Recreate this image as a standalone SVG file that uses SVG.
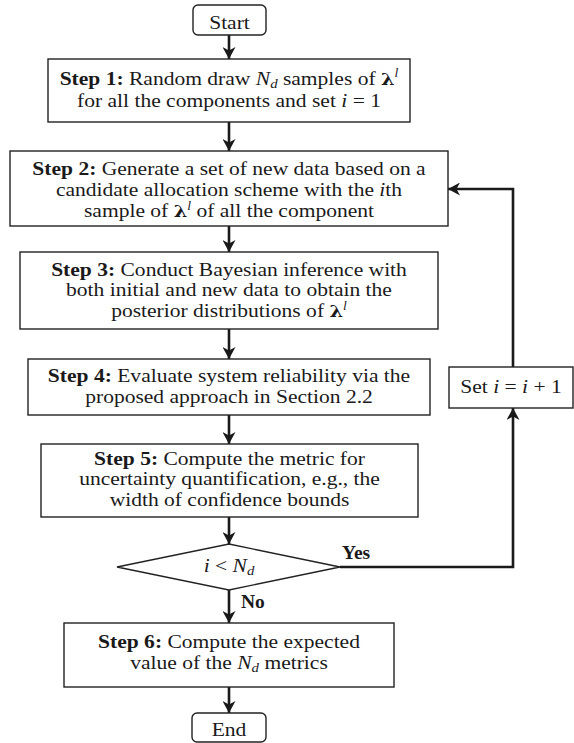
<svg xmlns="http://www.w3.org/2000/svg" width="574" height="743" viewBox="0 0 574 743">
  <style>
    .box { fill: #fff; stroke: #222; stroke-width: 1.4; }
    .conn { fill: none; stroke: #1a1a1a; stroke-width: 2.6; }
    text { font-family: "Liberation Serif", "Times New Roman", serif; font-size: 18.9px; fill: #1a1a1a; text-anchor: middle; }
    .b { font-weight: bold; }
    .it { font-style: italic; }
    .lam { font-weight: bold; font-family: "DejaVu Serif", "Liberation Serif", serif; font-size: 17px; }
    .sub { font-style: italic; font-size: 13px; }
    .sup { font-style: italic; font-size: 12px; }
    .lbl { font-weight: bold; font-size: 19.5px; text-anchor: start; }
  </style>
  <defs>
    <marker id="arr" markerUnits="userSpaceOnUse" markerWidth="13" markerHeight="13" refX="12" refY="6.5" orient="auto">
      <path d="M0,0 L12,6.5 L0,13 L3.5,6.5 Z" fill="#1a1a1a"/>
    </marker>
  </defs>

  <g id="connectors">
    <path class="conn" d="M229,35 V59" marker-end="url(#arr)"/>
    <path class="conn" d="M229,122 V151" marker-end="url(#arr)"/>
    <path class="conn" d="M229,226 V252" marker-end="url(#arr)"/>
    <path class="conn" d="M229,329 V359" marker-end="url(#arr)"/>
    <path class="conn" d="M229,415 V444" marker-end="url(#arr)"/>
    <path class="conn" d="M229,517 V544" marker-end="url(#arr)"/>
    <path class="conn" d="M229,590 V623" marker-end="url(#arr)"/>
    <path class="conn" d="M229,687 V713" marker-end="url(#arr)"/>
    <path class="conn" d="M340,567 H513 V408" marker-end="url(#arr)"/>
    <path class="conn" d="M513,367 V189 H448" marker-end="url(#arr)"/>
    <text class="lbl" x="342" y="559">Yes</text>
    <text class="lbl" x="241" y="608">No</text>
  </g>

  <g id="start">
    <rect class="box" x="193" y="5" width="73" height="30" rx="5"/>
    <g transform="translate(229.5 0) scale(1.14 1)"><text x="0" y="29">Start</text></g>
  </g>

  <g id="step1">
    <rect class="box" x="48" y="59" width="362" height="63"/>
    <g transform="translate(229 0) scale(1.14 1)">
      <text x="0" y="85"><tspan class="b">Step 1:</tspan> Random draw <tspan class="it">N</tspan><tspan class="sub" dy="3">d</tspan><tspan dy="-3"> samples of </tspan><tspan class="lam">λ</tspan><tspan class="sup" dy="-7.5">l</tspan></text>
      <text x="0" y="107">for all the components and set <tspan class="it">i</tspan> = 1</text>
    </g>
  </g>

  <g id="step2">
    <rect class="box" x="10" y="151" width="438" height="75"/>
    <g transform="translate(229 0) scale(1.14 1)">
      <text x="0" y="175"><tspan class="b">Step 2:</tspan> Generate a set of new data based on a</text>
      <text x="0" y="196">candidate allocation scheme with the <tspan class="it">i</tspan>th</text>
      <text x="0" y="217">sample of <tspan class="lam">λ</tspan><tspan class="sup" dy="-7">l</tspan><tspan dy="7"> of all the component</tspan></text>
    </g>
  </g>

  <g id="step3">
    <rect class="box" x="20" y="252" width="418" height="77"/>
    <g transform="translate(229 0) scale(1.14 1)">
      <text x="0" y="276"><tspan class="b">Step 3:</tspan> Conduct Bayesian inference with</text>
      <text x="0" y="296">both initial and new data to obtain the</text>
      <text x="0" y="317">posterior distributions of <tspan class="lam">λ</tspan><tspan class="sup" dy="-7">l</tspan></text>
    </g>
  </g>

  <g id="step4">
    <rect class="box" x="28" y="359" width="402" height="56"/>
    <g transform="translate(229 0) scale(1.14 1)">
      <text x="0" y="382"><tspan class="b">Step 4:</tspan> Evaluate system reliability via the</text>
      <text x="0" y="403">proposed approach in Section 2.2</text>
    </g>
  </g>

  <g id="set">
    <rect class="box" x="449" y="367" width="124" height="41"/>
    <g transform="translate(511 0) scale(1.14 1)">
      <text x="0" y="393">Set <tspan class="it">i</tspan> = <tspan class="it">i</tspan> + 1</text>
    </g>
  </g>

  <g id="step5">
    <rect class="box" x="41" y="444" width="377" height="73"/>
    <g transform="translate(229.5 0) scale(1.14 1)">
      <text x="0" y="465"><tspan class="b">Step 5:</tspan> Compute the metric for</text>
      <text x="0" y="485">uncertainty quantification, e.g., the</text>
      <text x="0" y="506">width of confidence bounds</text>
    </g>
  </g>

  <g id="decision">
    <polygon class="box" points="229,544 340,567 229,590 117,567"/>
    <g transform="translate(229 0) scale(1.14 1)">
      <text x="0" y="572"><tspan class="it">i</tspan> &lt; <tspan class="it">N</tspan><tspan class="sub" dy="3.5">d</tspan></text>
    </g>
  </g>

  <g id="step6">
    <rect class="box" x="64" y="623" width="330" height="64"/>
    <g transform="translate(229 0) scale(1.14 1)">
      <text x="0" y="648"><tspan class="b">Step 6:</tspan> Compute the expected</text>
      <text x="0" y="669">value of the <tspan class="it">N</tspan><tspan class="sub" dy="3.5">d</tspan><tspan dy="-3.5"> metrics</tspan></text>
    </g>
  </g>

  <g id="end">
    <rect class="box" x="192" y="713" width="74" height="29" rx="5"/>
    <g transform="translate(229 0) scale(1.14 1)"><text x="0" y="736">End</text></g>
  </g>
</svg>
